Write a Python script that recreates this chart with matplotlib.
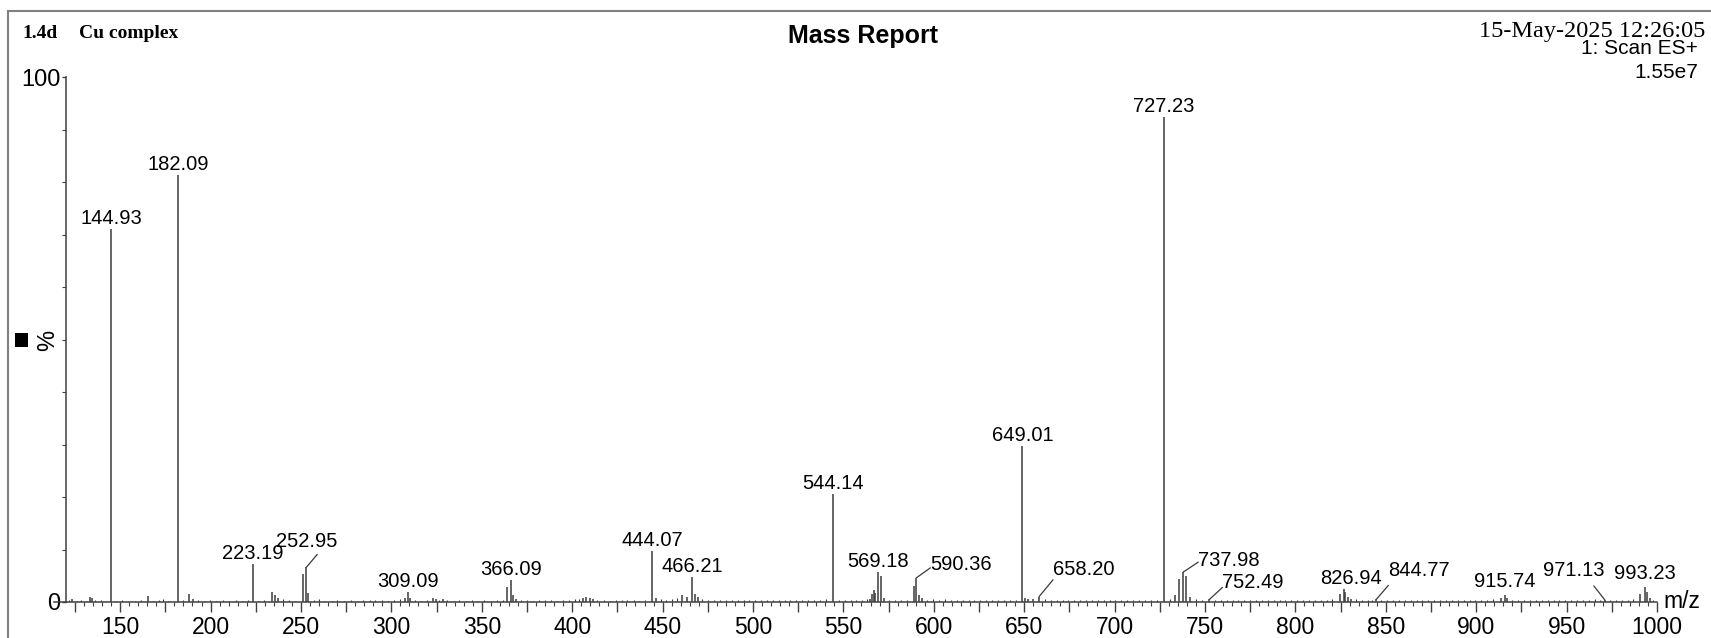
import numpy as np
import matplotlib
matplotlib.use("Agg")
import matplotlib.pyplot as plt
from matplotlib.patches import Rectangle
from matplotlib.ticker import FixedLocator, NullFormatter

# main peaks: m/z and relative intensity (%)
peak_mz = [123.1, 133.3, 134.6, 144.93, 165.5, 182.09, 188.2, 190.4,
           223.19, 234.1, 235.6, 237.4, 251.2, 252.95, 254.0,
           307.6, 309.09, 310.5, 323.2, 324.5, 328.6,
           364.2, 366.09, 367.5, 368.8, 406.0, 407.8, 409.6, 411.4,
           444.07, 446.5, 460.6, 463.4, 466.21, 468.0, 469.7,
           544.14, 564.8, 565.8, 566.9, 567.7, 569.18, 570.9, 572.7,
           588.8, 590.36, 592.0, 593.3,
           649.01, 650.6, 652.3, 655.0, 658.20,
           727.23, 733.5, 735.9, 737.98, 739.5, 741.7, 752.49,
           824.8, 826.94, 827.6, 829.0, 830.6, 844.77,
           913.8, 915.74, 917.0, 971.13, 990.8, 993.23, 994.5, 996.0]
peak_int = [0.6, 1.0, 0.7, 71.0, 1.1, 81.3, 1.6, 0.6,
            7.2, 2.0, 1.3, 0.8, 5.3, 6.6, 1.8,
            0.7, 1.9, 0.8, 0.8, 0.6, 0.5,
            2.8, 4.2, 1.3, 0.6, 0.8, 1.0, 0.8, 0.6,
            9.7, 0.7, 1.3, 1.0, 4.7, 1.6, 0.9,
            20.5, 0.6, 1.5, 2.2, 1.8, 5.7, 5.0, 0.8,
            3.1, 4.6, 1.3, 0.7,
            29.7, 0.8, 0.6, 0.5, 1.0,
            92.4, 1.3, 4.4, 5.7, 5.0, 1.0, 0.5,
            1.6, 2.5, 1.9, 1.0, 0.6, 0.5,
            0.7, 1.4, 0.8, 0.4, 1.6, 2.9, 1.9, 0.8]

# baseline noise spikes (m/z, %)
noise_peaks = [
    (121.5, .3), (126.0, .2), (128.4, .4), (131.0, .2), (136.2, .3), (139.5, .3),
    (142.0, .2), (147.5, .2), (151.2, .3), (154.6, .2), (158.0, .2), (161.3, .3),
    (168.2, .2), (171.5, .4), (173.8, .5), (176.4, .2), (185.0, .3), (193.2, .3),
    (196.5, .2), (199.8, .3), (203.0, .2), (206.7, .4), (210.4, .2), (214.0, .3),
    (217.5, .2), (220.6, .3), (226.0, .2), (229.5, .3), (240.0, .5), (243.2, .3),
    (246.5, .2), (257.0, .3), (260.0, .5), (263.5, .2), (267.0, .2), (270.2, .3),
    (274.0, .2), (277.5, .3), (281.0, .2), (284.3, .3), (288.0, .3), (291.2, .4),
    (294.6, .3), (298.0, .2), (301.5, .4), (304.6, .5), (313.2, .3), (316.5, .2),
    (319.8, .3), (326.5, .4), (331.0, .3), (334.5, .2), (337.6, .3), (341.0, .2),
    (344.5, .3), (348.0, .2), (351.5, .3), (355.0, .2), (358.4, .3), (361.5, .4),
    (371.5, .4), (375.0, .3), (378.2, .2), (381.5, .3), (385.0, .4), (388.4, .3),
    (391.6, .2), (395.0, .3), (398.2, .3), (401.5, .5), (403.8, .6), (414.0, .4),
    (417.5, .3), (420.8, .2), (424.0, .3), (427.5, .3), (430.5, .4), (434.0, .3),
    (437.2, .2), (440.5, .4), (449.0, .5), (452.0, .4), (455.2, .6), (458.0, .7),
    (472.0, .5), (475.3, .4), (478.5, .3), (481.6, .4), (485.0, .3), (488.2, .4),
    (491.5, .3), (494.8, .4), (498.0, .3), (501.3, .4), (504.5, .3), (507.8, .4),
    (511.0, .3), (514.2, .4), (517.5, .3), (520.7, .4), (524.0, .3), (527.2, .3),
    (530.5, .4), (533.7, .3), (537.0, .4), (540.2, .5), (547.5, .4), (550.7, .3),
    (554.0, .4), (557.2, .3), (560.5, .4), (562.8, .5), (575.5, .4), (578.8, .3),
    (582.0, .4), (585.3, .3), (596.5, .4), (599.8, .5), (603.0, .4), (606.3, .5),
    (609.5, .3), (612.8, .4), (616.0, .3), (619.3, .3), (622.5, .4), (625.8, .3),
    (629.0, .3), (632.3, .4), (635.5, .3), (638.8, .3), (642.0, .4), (645.3, .4),
    (661.5, .5), (664.8, .4), (668.0, .3), (671.3, .4), (674.5, .3), (677.8, .3),
    (681.0, .4), (684.3, .3), (687.5, .3), (690.8, .4), (694.0, .3), (697.3, .3),
    (700.5, .4), (703.8, .3), (707.0, .3), (710.3, .4), (713.5, .3), (716.8, .3),
    (720.0, .4), (723.3, .4), (730.5, .5), (745.0, .5), (748.3, .4), (755.5, .4),
    (758.8, .3), (762.0, .4), (765.3, .3), (768.5, .3), (771.8, .4), (775.0, .3),
    (778.3, .3), (781.5, .4), (784.8, .3), (788.0, .3), (791.3, .4), (794.5, .3),
    (797.8, .3), (801.0, .4), (804.3, .3), (807.5, .3), (810.8, .4), (814.0, .3),
    (817.3, .4), (820.5, .5), (833.5, .5), (836.8, .4), (840.0, .4), (842.5, .3),
    (847.5, .4), (850.8, .3), (854.0, .3), (857.3, .4), (860.5, .3), (863.8, .3),
    (867.0, .4), (870.3, .3), (873.5, .3), (876.8, .4), (880.0, .3), (883.3, .3),
    (886.5, .4), (889.8, .3), (893.0, .3), (896.3, .4), (899.5, .3), (902.8, .3),
    (906.0, .4), (909.3, .5), (920.0, .4), (923.3, .3), (926.5, .3), (929.8, .4),
    (933.0, .3), (936.3, .3), (939.5, .4), (942.8, .3), (946.0, .3), (949.3, .4),
    (952.5, .3), (955.8, .4), (959.0, .3), (962.3, .4), (965.5, .5), (968.5, .4),
    (974.0, .4), (977.3, .3), (980.5, .4), (983.8, .3), (987.0, .5), (998.0, .4),
]

label_mz = [144.93, 182.09, 223.19, 252.95, 309.09, 366.09, 444.07, 466.21,
            544.14, 569.18, 590.36, 649.01, 658.20, 727.23, 737.98, 752.49,
            826.94, 844.77, 915.74, 971.13, 993.23]

# label placement tweaks in pixels: (text dx, text dy above peak top, leader end dx, dy)
leaders = {
    252.95: (0, 26, 11, 13, 'center'),
    590.36: (14, 13, 14, 10, 'left'),
    658.20: (14, 27, 14, 17, 'left'),
    737.98: (15, 12, 15, 10, 'left'),
    752.49: (13, 17, 13, 12, 'left'),
    844.77: (12, 29, 12, 14, 'left'),
    971.13: (0, 29, -11, 14, 'right'),
}
shift = {826.94: (7, 0), 915.74: (0, 3), 993.23: (0, 3)}

W, H = 1711, 638
fig = plt.figure(figsize=(W / 100, H / 100), dpi=100)
line_col = '#3a3a3a'

x_left_px, x_right_px = 54, 1657
y0_px, y100_px = 602, 77
ax = fig.add_axes([x_left_px / W, (H - y0_px) / H,
                   (x_right_px - x_left_px) / W, (y0_px - y100_px) / H])
ax.set_xlim(113.4, 1000)
ax.set_ylim(0, 100)

for s in ['top', 'right']:
    ax.spines[s].set_visible(False)
ax.spines['left'].set_position(('data', 120))
for s in ['left', 'bottom']:
    ax.spines[s].set_color('#404040')
    ax.spines[s].set_linewidth(1.1)

nmz, nint = zip(*noise_peaks)
ax.vlines(nmz, 0, nint, color=line_col, lw=0.8)
ax.vlines(peak_mz, 0, peak_int, color=line_col, lw=1.1)

# axis ticks
ax.xaxis.set_major_locator(FixedLocator(np.arange(125, 1001, 25)))
ax.xaxis.set_major_formatter(plt.FuncFormatter(lambda v, p: f"{int(v)}" if v % 50 == 0 else ""))
ax.xaxis.set_minor_locator(FixedLocator(np.arange(125, 1001, 5)))
ax.tick_params(axis='x', which='major', length=7, width=1.0, color='#404040',
               labelsize=16.5, pad=3)
ax.tick_params(axis='x', which='minor', length=3, width=0.8, color='#404040')
ax.yaxis.set_major_locator(FixedLocator([0, 100]))
ax.yaxis.set_minor_locator(FixedLocator(np.arange(10, 100, 10)))
ax.yaxis.set_minor_formatter(NullFormatter())
ax.tick_params(axis='y', which='major', length=3, width=1.0, color='#404040',
               labelsize=17, pad=1)
ax.tick_params(axis='y', which='minor', length=3, width=0.8, color='#404040')
for lab in ax.get_xticklabels() + ax.get_yticklabels():
    lab.set_family('Liberation Sans')

# peak labels
heights = dict(zip(peak_mz, peak_int))
for mz in label_mz:
    top = heights[mz]
    txt = f"{mz:.2f}"
    if mz in leaders:
        tdx, tdy, ldx, ldy, ha = leaders[mz]
        ax.annotate('', xy=(mz, top), xytext=(ldx, ldy), textcoords='offset pixels',
                    arrowprops=dict(arrowstyle='-', color=line_col, lw=0.9,
                                    shrinkA=0, shrinkB=0))
        ax.annotate(txt, xy=(mz, top), xytext=(tdx, tdy), textcoords='offset pixels',
                    ha=ha, va='center', fontsize=14.5, family='Liberation Sans')
    else:
        dx, dy = shift.get(mz, (0, 0))
        ax.annotate(txt, xy=(mz, top), xytext=(dx, 5 + dy), textcoords='offset pixels',
                    ha='center', va='baseline', fontsize=14.5, family='Liberation Sans')

ax.text(1.004, 0.0, 'm/z', transform=ax.transAxes, ha='left', va='center',
        fontsize=16.5, family='Liberation Sans')


def fx(px):
    return px / W


def fy(py):
    return (H - py) / H


# header
fig.text(fx(22), fy(33), '1.4d', ha='left', va='center', fontsize=14,
         family='Liberation Serif', weight='bold')
fig.text(fx(79), fy(33), 'Cu complex', ha='left', va='center', fontsize=14,
         family='Liberation Serif', weight='bold')
fig.text(fx(863), fy(36), 'Mass Report', ha='center', va='center', fontsize=18,
         family='Liberation Sans', weight='bold')
fig.text(fx(1705), fy(31), '15-May-2025 12:26:05', ha='right', va='center',
         fontsize=17.5, family='Liberation Serif')
fig.text(fx(1698), fy(49), '1: Scan ES+', ha='right', va='center', fontsize=15,
         family='Liberation Sans')
fig.text(fx(1698), fy(73), '1.55e7', ha='right', va='center', fontsize=15,
         family='Liberation Sans')

# y label with the square marker
fig.text(fx(48), fy(340), '%', ha='center', va='center', rotation=90, fontsize=17,
         family='Liberation Sans')
fig.patches.append(Rectangle((fx(15), fy(347)), 13 / W, 14 / H, transform=fig.transFigure,
                             facecolor='black', edgecolor='none'))

# outer frame
fig.patches.append(Rectangle((fx(8), -0.1), 1.2, fy(11) + 0.1, transform=fig.transFigure,
                             facecolor='none', edgecolor='#808080', lw=1.5, clip_on=False))

fig.savefig('out.png', dpi=100)
